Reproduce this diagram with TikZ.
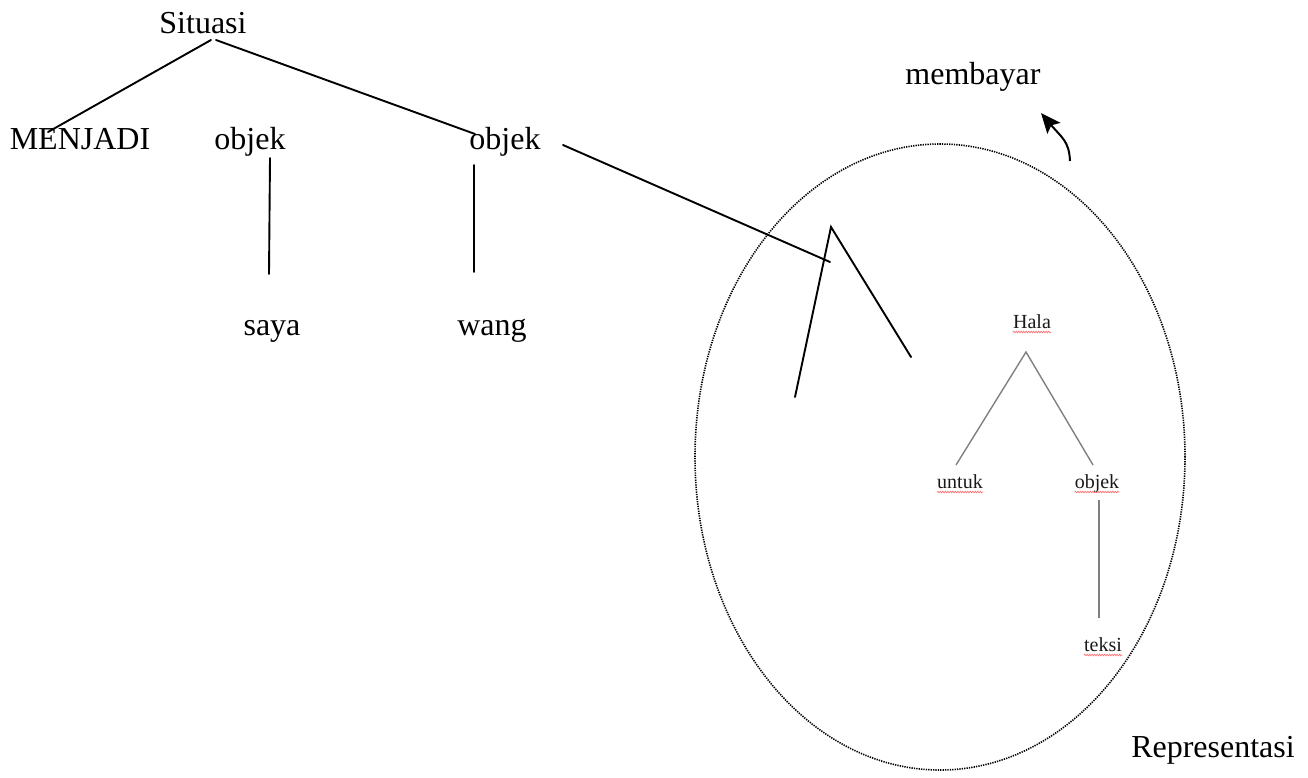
\documentclass[tikz,border=0pt]{standalone}
\usepackage{fontspec}
\setmainfont{Liberation Serif}
\usetikzlibrary{arrows.meta,decorations.pathmorphing,shapes.geometric}
\begin{document}
\begin{tikzpicture}[x=1pt,y=-1pt,
  lbl/.style={font=\fontsize{32}{36}\selectfont, inner sep=0pt, anchor=base},
  small/.style={font=\fontsize{20}{24}\selectfont, inner sep=0pt, anchor=base, text=black!90},
  edge/.style={line width=1.9pt, line cap=round},
  greyedge/.style={line width=1.4pt, draw=black!50},
  ring/.style={line width=1.6pt, dash pattern=on 1.3pt off 1.1pt},
  squiggle/.style={draw=red!55, line width=0.7pt, decorate,
    decoration={snake, amplitude=0.8pt, segment length=2.5pt}}
]
\useasboundingbox (0,0) rectangle (1308,777);

% main tree labels
\node[lbl] (sit)      at (203,33)  {Situasi};
\node[lbl] (menjadi)  at (80,149)  {MENJADI};
\node[lbl] (objA)     at (250,149) {objek};
\node[lbl] (objB)     at (505,149) {objek};
\node[lbl] (saya)     at (272,335) {saya};
\node[lbl] (wang)     at (492,335) {wang};
\node[lbl] (membayar) at (973,84)  {membayar};
\node[lbl] (rep)      at (1213,757) {Representasi};

% branch end points
\coordinate (sitL) at (211,40);
\coordinate (sitR) at (216,40);
\coordinate (menjadiTop) at (48,132);
\coordinate (objBTop) at (475,134);
\coordinate (objAdown1) at (270,158);
\coordinate (objAdown2) at (269,274);
\coordinate (objBdown1) at (474,165);
\coordinate (objBdown2) at (474,272);
\coordinate (objBout) at (563,145);
\coordinate (link) at (830,262);
\coordinate (apex) at (831,227);
\coordinate (legL) at (795,397);
\coordinate (legR) at (911,357);

\draw[edge] (sitL) -- (menjadiTop);
\draw[edge] (sitR) -- (objBTop);
\draw[edge] (objAdown1) -- (objAdown2);
\draw[edge] (objBdown1) -- (objBdown2);
\draw[edge] (objBout) -- (link);
\draw[edge] (legL) -- (apex) -- (legR);

% representation ring
\node[draw, ring, ellipse, minimum width=490pt, minimum height=626pt, inner sep=0pt] (ring) at (940,457) {};

% curved arrow
\coordinate (arrTail) at (1070,161);
\coordinate (arrTip) at (1041,113);
\draw[line width=2pt, -{Stealth[length=20pt,width=17pt,inset=4pt]}]
  (arrTail) .. controls (1069,141) and (1062,138) .. (arrTip);

% embedded sub-tree
\node[small] (hala)  at (1032,328) {Hala};
\node[small] (untuk) at (960,488)  {untuk};
\node[small] (objC)  at (1097,488) {objek};
\node[small] (teksi) at (1103,651) {teksi};

\coordinate (halaApex) at (1026,352);
\coordinate (untukTop) at (956,465);
\coordinate (objCTop) at (1093,465);
\coordinate (objCdown1) at (1099,500);
\coordinate (objCdown2) at (1099,618);

\draw[greyedge] (untukTop) -- (halaApex) -- (objCTop);
\draw[greyedge] (objCdown1) -- (objCdown2);

\foreach \w in {hala,untuk,objC,teksi}
  \draw[squiggle] ([yshift=-4pt]\w.base west) -- ([yshift=-4pt]\w.base east);
\end{tikzpicture}
\end{document}
